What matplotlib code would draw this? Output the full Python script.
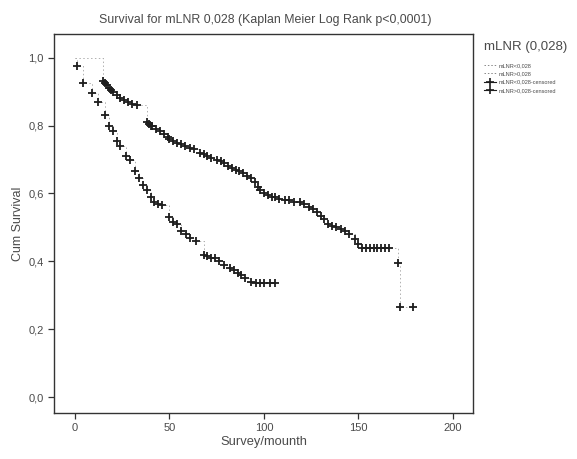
import matplotlib
matplotlib.use("Agg")
import matplotlib.pyplot as plt
from matplotlib.lines import Line2D

plt.rcParams['font.family'] = ['Liberation Sans', 'DejaVu Sans']

# Group mLNR<0,028 (upper curve): censor times (months) and survival at each mark
low_t = [15, 16, 17, 18, 19, 20, 22, 24, 26, 28, 30, 33,
         38, 39, 40, 41, 43, 45, 47, 49,
         50, 52, 54, 56, 58, 61, 63, 66, 68, 70, 72, 75, 77, 79, 81, 83, 85, 87, 89, 91,
         93, 95, 97, 98, 100, 102, 104, 106, 108, 111, 113, 116, 119, 121, 124, 126, 128,
         130, 132, 134, 136, 138, 141, 143, 145, 148, 150, 152, 154, 156, 158, 160, 162,
         164, 166, 171, 172, 179]
low_s = [.93, .925, .92, .91, .905, .90, .89, .88, .875, .87, .865, .86,
         .81, .805, .80, .80, .79, .785, .775, .765,
         .76, .755, .75, .745, .74, .735, .73, .72, .715, .71, .705, .70, .695, .69, .68, .675,
         .67, .665, .66, .65,
         .645, .635, .62, .61, .60, .595, .59, .59, .585, .58, .58, .575, .575, .57, .56, .555, .545,
         .535, .525, .51, .505, .50, .495, .49, .48, .465, .45, .44, .44, .44, .44, .44, .44,
         .44, .44, .395, .265, .265]

# Group mLNR>0,028 (lower curve)
high_t = [1, 4, 9, 12, 16, 18, 20, 22, 24, 27, 29, 32, 34, 36, 38, 40, 42, 44, 46, 50, 52,
          54, 56, 59, 61, 64, 68, 70, 72, 74, 76, 79, 82, 84, 86, 88, 90, 93, 96, 98, 100,
          103, 106]
high_s = [.975, .925, .895, .87, .83, .80, .785, .755, .74, .71, .70, .665, .645, .625, .61,
          .59, .575, .57, .565, .53, .515, .51, .49, .48, .47, .46, .42, .415, .41, .41, .40,
          .39, .38, .375, .365, .36, .35, .34, .335, .335, .335, .335, .335]

x_ticks = [0, 50, 100, 150, 200]
y_ticks = [0.0, 0.2, 0.4, 0.6, 0.8, 1.0]
y_tick_labels = ['0,0', '0,2', '0,4', '0,6', '0,8', '1,0']

fig = plt.figure(figsize=(5.77, 4.59), dpi=100)
ax = fig.add_axes([0.0936, 0.1002, 0.7262, 0.8258])

text_col = '#4a4a4a'
step_col = '#b0b0b0'
for t, s in [(low_t, low_s), (high_t, high_s)]:
    ax.step([0] + t, [1.0] + s, where='post', color=step_col, lw=0.7, ls=(0, (1.5, 2.5)))
    ax.plot(t, s, ls='none', marker='+', ms=5.5, mew=1.3, color='#1e1e1e')

ax.set_xlim(-11.1, 210.6)
ax.set_ylim(-0.047, 1.07)
ax.set_xticks(x_ticks)
ax.set_xticklabels([str(v) for v in x_ticks])
ax.set_yticks(y_ticks)
ax.set_yticklabels(y_tick_labels)
ax.tick_params(direction='out', length=4, width=0.9, colors='#333333',
               labelsize=8, labelcolor=text_col)
for sp in ax.spines.values():
    sp.set_color('#333333')
    sp.set_linewidth(1.0)

ax.set_xlabel('Survey/mounth', fontsize=9.3, color=text_col, labelpad=2)
ax.set_ylabel('Cum Survival', fontsize=9, color=text_col, labelpad=3)
fig.text(0.46, 0.957, 'Survival for mLNR 0,028 (Kaplan Meier Log Rank p<0,0001)',
         ha='center', va='center', fontsize=8.9, color=text_col)

handles = [
    Line2D([], [], color='#888888', lw=0.7, ls=(0, (1.5, 2))),
    Line2D([], [], color='#888888', lw=0.7, ls=(0, (1.5, 2))),
    Line2D([], [], color='#1e1e1e', lw=0.8, marker='+', ms=6, mew=1.2),
    Line2D([], [], color='#1e1e1e', lw=0.8, marker='+', ms=6, mew=1.2),
]
labels = ['mLNR<0,028', 'mLNR>0,028', 'mLNR<0,028-censored', 'mLNR>0,028-censored']
leg = fig.legend(handles, labels, loc='upper left', bbox_to_anchor=(0.835, 0.915),
                 frameon=False, fontsize=4, title='mLNR (0,028)',
                 title_fontsize=9.5, handlelength=2.2, handletextpad=0.4,
                 labelspacing=0.6, borderaxespad=0)
leg.get_title().set_color(text_col)
leg._legend_box.align = 'left'
leg._legend_box.sep = 7
for txt in leg.get_texts():
    txt.set_color(text_col)

fig.savefig('out.png', dpi=100)
